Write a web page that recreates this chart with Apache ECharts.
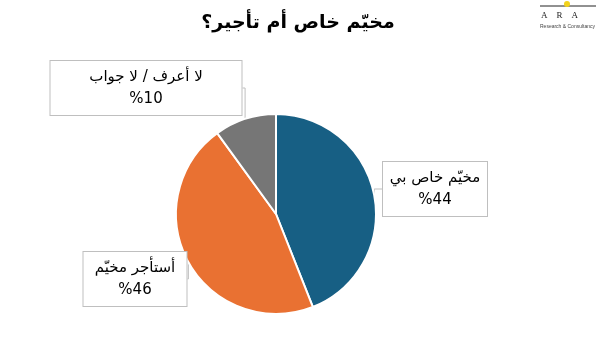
<!DOCTYPE html>
<html>
<head>
<meta charset="utf-8">
<script src="https://cdn.jsdelivr.net/npm/echarts@6/dist/echarts.min.js"></script>
<style>
  html, body { margin: 0; padding: 0; background: #fff; }
  #chart { width: 596px; height: 353px; }
</style>
</head>
<body>
<div id="chart"></div>
<script>
var titleText = 'مخيّم خاص أم تأجير؟';
var categories = ['مخيّم خاص بي', 'أستأجر مخيّم', 'لا أعرف / لا جواب'];
var values = [44, 46, 10];
var colors = ['#175F84', '#E97132', '#767676'];

// callout box centres and inner widths
var labelSpots = [[435, 189], [135, 279], [146, 88]];
var labelWidths = [88, 87, 175];

var chart = echarts.init(document.getElementById('chart'));
var pieData = categories.map(function (c, i) {
  return { name: c, value: values[i], itemStyle: { color: colors[i] }, label: { width: labelWidths[i] } };
});

var option = {
  animation: false,
  title: {
    text: titleText,
    left: 293,
    top: 9,
    textAlign: 'center',
    textStyle: { fontFamily: 'DejaVu Sans', fontSize: 19, fontWeight: 'bold', color: '#000' }
  },
  graphic: [
    { type: 'line', shape: { x1: 540, y1: 6, x2: 596, y2: 6 }, style: { stroke: '#222', lineWidth: 1 } },
    { type: 'circle', shape: { cx: 567, cy: 4, r: 3 }, style: { fill: '#F2D21B' } },
    { type: 'text', left: 541, top: 11, style: { text: 'A    R    A', font: '9px "Liberation Serif"', fill: '#222' } },
    { type: 'text', left: 540, top: 24, style: { text: 'Research & Consultancy', font: '5px "Liberation Sans"', fill: '#444' } }
  ],
  series: [{
    type: 'pie',
    center: [276, 214],
    radius: [0, 100],
    startAngle: 90,
    clockwise: true,
    data: pieData,
    itemStyle: { borderColor: '#fff', borderWidth: 2 },
    label: {
      show: true,
      formatter: function (p) { return p.name + '\n%' + p.value; },
      fontFamily: 'DejaVu Sans',
      fontSize: 15,
      lineHeight: 22,
      color: '#000',
      align: 'center',
      overflow: 'none',
      backgroundColor: '#fff',
      borderColor: '#bfbfbf',
      borderWidth: 1,
      padding: [5, 8, 5, 8]
    },
    labelLine: {
      show: true,
      length: 8,
      length2: 8,
      lineStyle: { color: '#bfbfbf', width: 1 }
    },
    labelLayout: function (p) {
      var s = labelSpots[p.dataIndex];
      return { x: s[0], y: s[1], align: 'center', verticalAlign: 'middle' };
    }
  }]
};
chart.setOption(option);
</script>
</body>
</html>
